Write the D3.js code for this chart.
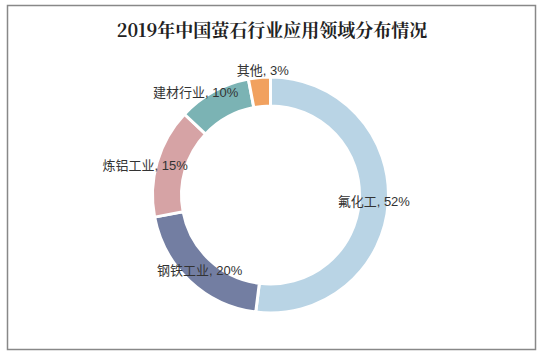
<!DOCTYPE html>
<html><head><meta charset="utf-8">
<script src="https://cdn.jsdelivr.net/npm/d3@7/dist/d3.min.js"></script>
<style>
html,body{margin:0;padding:0;background:#fff;}
svg{display:block;}
</style>
</head><body>
<script>
const title = "2019年中国萤石行业应用领域分布情况";
const categories = ["氟化工", "钢铁工业", "炼铝工业", "建材行业", "其他"];
const values = [52, 20, 15, 10, 3];
const colors = ["#b9d4e5", "#737ea2", "#d6a3a5", "#7bb3b4", "#f1a15f"];
// label nudges from slice centroid (layout only)
const labelOffsets = [[0,0],[0,0],[-26,-1],[-25,-12],[2,-21]];

const W = 543, H = 355;
const svg = d3.select("body").append("svg").attr("width", W).attr("height", H);

svg.append("rect").attr("x", 7.5).attr("y", 5.5).attr("width", 528).attr("height", 344)
  .attr("fill", "#fff").attr("stroke", "#888").attr("stroke-width", 1.5);

svg.append("text").attr("x", 272).attr("y", 29)
  .attr("text-anchor", "middle").attr("dominant-baseline", "central")
  .attr("font-family", "'Noto Serif CJK SC','Noto Sans CJK SC',serif")
  .attr("font-weight", "bold").attr("font-size", 18).attr("fill", "#222")
  .text(title);

const cx = 270.5, cy = 195, R = 118, r = 89;
const data = categories.map((c, i) => ({cat: c, val: values[i], i}));
const pie = d3.pie().sort(null).value(d => d.val);
const arc = d3.arc().innerRadius(r).outerRadius(R);
const g = svg.append("g").attr("transform", `translate(${cx},${cy})`);
const arcs = pie(data);

g.selectAll("path").data(arcs).join("path")
  .attr("d", arc).attr("fill", d => colors[d.data.i])
  .attr("stroke", "#fff").attr("stroke-width", 3).attr("stroke-linejoin", "miter");

g.selectAll("text").data(arcs).join("text")
  .attr("x", d => arc.centroid(d)[0] + labelOffsets[d.data.i][0])
  .attr("y", d => arc.centroid(d)[1] + labelOffsets[d.data.i][1])
  .attr("text-anchor", "middle").attr("dominant-baseline", "central")
  .attr("font-family", "'Liberation Sans','Noto Sans CJK SC', sans-serif")
  .attr("font-size", 13).attr("fill", "#333")
  .text(d => `${d.data.cat}, ${d.data.val}%`);
</script>
</body></html>
